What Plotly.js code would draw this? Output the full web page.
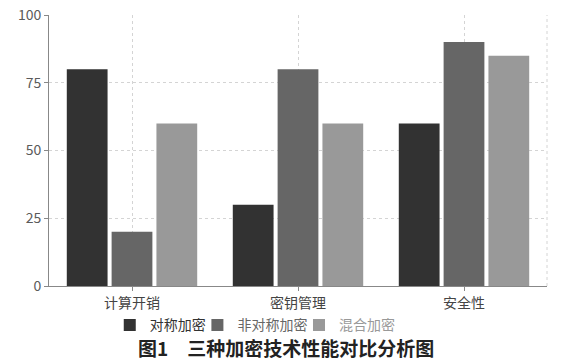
<!DOCTYPE html>
<html>
<head>
<meta charset="utf-8">
<script src="https://cdn.plot.ly/plotly-3.0.1.min.js"></script>
<style>html,body{margin:0;padding:0;background:#fff;}#chart{width:585px;height:362px;}</style>
</head>
<body>
<div id="chart"></div>
<script>
var categories = ["计算开销", "密钥管理", "安全性"];
var seriesNames = ["对称加密", "非对称加密", "混合加密"];
var symmetric = [80, 30, 60];
var asymmetric = [20, 80, 90];
var hybrid = [60, 60, 85];
var yTicks = [0, 25, 50, 75, 100];
var figureTitle = "图1　三种加密技术性能对比分析图";

var colors = ["#323232", "#666666", "#999999"];
var values = [symmetric, asymmetric, hybrid];
var legendIds = ["legend", "legend2", "legend3"];

var traces = values.map(function (v, i) {
  return {
    type: "bar",
    name: seriesNames[i],
    x: categories,
    y: v,
    showlegend: true,
    marker: { color: colors[i], line: { width: 0 } },
    legend: legendIds[i],
    hoverinfo: "x+y+name"
  };
});

var font = "'Noto Sans CJK SC', 'Noto Sans', sans-serif";
function legendCfg(x, c) {
  return {
    visible: true,
    x: x, y: -0.145, xref: "paper", yref: "paper",
    xanchor: "left", yanchor: "middle",
    orientation: "h", bgcolor: "rgba(0,0,0,0)",
    font: { family: font, size: 14, color: c },
    itemwidth: 30, tracegroupgap: 0
  };
}

var layout = {
  width: 585, height: 362,
  showlegend: true,
  margin: { l: 49, r: 38, t: 15, b: 76 },
  paper_bgcolor: "#ffffff", plot_bgcolor: "#ffffff",
  barmode: "group", bargap: 0.19, bargroupgap: 0.09,
  font: { family: font, color: "#555555" },
  xaxis: {
    type: "category",
    showgrid: true, gridcolor: "#d4d4d4", griddash: "dot", gridwidth: 1,
    showline: true, linecolor: "#888888", linewidth: 1,
    ticks: "outside", ticklen: 4, tickcolor: "#888888",
    tickfont: { family: font, size: 14, color: "#444444" },
    zeroline: false, fixedrange: true
  },
  yaxis: {
    range: [0, 100], tickvals: yTicks, ticktext: yTicks.map(String),
    showgrid: true, gridcolor: "#d4d4d4", griddash: "dot", gridwidth: 1,
    showline: true, linecolor: "#888888", linewidth: 1,
    ticks: "outside", ticklen: 4, tickcolor: "#888888",
    tickfont: { family: font, size: 14, color: "#5a5a5a" },
    zeroline: false, fixedrange: true
  },
  legend: legendCfg(0.122, colors[0]),
  legend2: legendCfg(0.298, colors[1]),
  legend3: legendCfg(0.502, colors[2]),
  shapes: [{
    type: "line", xref: "paper", yref: "paper",
    x0: 1, x1: 1, y0: 0, y1: 1,
    line: { color: "#d4d4d4", width: 1, dash: "dot" }
  }],
  annotations: [{
    text: "<b>" + figureTitle + "</b>",
    xref: "paper", yref: "paper", x: 0.476, y: -0.228,
    xanchor: "center", yanchor: "middle", showarrow: false,
    font: { family: font, size: 19, color: "#222222" }
  }]
};

Plotly.newPlot("chart", traces, layout, { displayModeBar: false, staticPlot: true });
</script>
</body>
</html>
